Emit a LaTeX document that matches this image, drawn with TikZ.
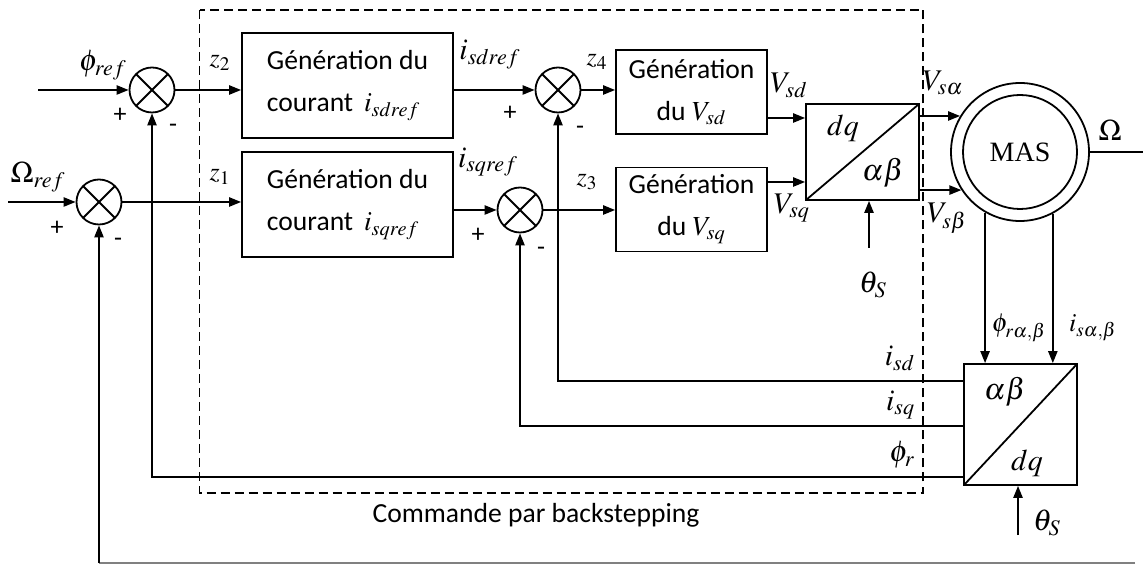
\documentclass[tikz,border=0pt]{standalone}
\usepackage{amsmath}
\usepackage{mathptmx}
\usepackage{fontspec}
\setmainfont{Carlito}
\newfontfamily\serif{Liberation Serif}
\usetikzlibrary{arrows.meta}

\begin{document}
\begin{tikzpicture}[x=0.5pt,y=-0.5pt,line width=0.9pt,>={Triangle[length=6pt,width=4.6pt]},
	bloc/.style={draw, rectangle, inner sep=0pt, minimum width=105.5pt, minimum height=52.5pt, align=left, font=\fontsize{13.8}{21}\selectfont},
	gen/.style={draw, rectangle, inner sep=0pt, minimum width=75.5pt, minimum height=42pt, align=center, font=\fontsize{13.8}{21}\selectfont},
	sum/.style={draw, circle, inner sep=0pt, minimum size=22.5pt, path picture={
		\draw ([shift={(45:11.25pt)}]path picture bounding box.center) -- ([shift={(225:11.25pt)}]path picture bounding box.center);
		\draw ([shift={(135:11.25pt)}]path picture bounding box.center) -- ([shift={(315:11.25pt)}]path picture bounding box.center);}},
	conv/.style={draw, rectangle, inner sep=0pt, minimum width=56.5pt, path picture={
		\draw (path picture bounding box.south west) -- (path picture bounding box.north east);}},
	lab/.style={inner sep=0pt, font=\fontsize{15}{15}\selectfont},
	small/.style={inner sep=0pt, font=\fontsize{13}{13}\selectfont},
	sgn/.style={inner sep=0pt, font=\fontsize{13}{13}\selectfont}]
	\useasboundingbox (0,0) rectangle (1143,565);

	% frame of the backstepping control
	\draw[line width=0.7pt, dash pattern=on 4.5pt off 2.5pt] (199.5,10) rectangle (923,493);
	\node[font=\fontsize{13.8}{16}\selectfont] (cmd) at (536,515) {Commande par backstepping};

	\node[sum] (S1) at (152,90) {};
	\node[sum] (S2) at (99,202) {};
	\node[sum] (S3) at (558,90) {};
	\node[sum] (S4) at (520,210) {};

	\node[bloc] (B1) at (347.5,85.5) {Génération du\\courant\, $i_{sdref}$};
	\node[bloc] (B2) at (347.5,204.5) {Génération du\\courant\, $i_{sqref}$};
	\node[gen] (B3) at (691.5,92) {Génération\\du $V_{sd}$};
	\node[gen] (B4) at (691.5,209.5) {Génération\\du $V_{sq}$};

	\node[conv, minimum height=48pt] (T1) at (862.5,152) {};
	\node[conv, minimum height=60.5pt] (T2) at (1020.5,424.5) {};
	\node[lab] (dq1) at (843,128) {$dq$};
	\node[lab] (ab1) at (883,173) {$\alpha\beta$};
	\node[lab] (ab2) at (1005,392) {$\alpha\beta$};
	\node[lab] (dq2) at (1027,463) {$dq$};

	\node[draw, circle, inner sep=0pt, minimum size=69pt] (MAS) at (1020,152) {};
	\node[draw, circle, inner sep=0pt, minimum size=57pt, font=\serif\fontsize{14}{14}\selectfont] (MASin) at (MAS) {MAS};

	\coordinate (phin) at (38,90);
	\coordinate (omin) at (8,202);
	\coordinate (th1) at (869,248);
	\coordinate (th2) at (1018,535);
	\coordinate (omout) at (1143,152);
	\coordinate (fbR) at (1135,563);

	\draw[->] (phin) -- (S1);
	\draw[->] (S1) -- (S1 -| B1.west);
	\draw[->] (omin) -- (S2);
	\draw[->] (S2) -- (S2 -| B2.west);
	\draw[->] (S3 -| B1.east) -- (S3);
	\draw[->] (S4 -| B2.east) -- (S4);
	\draw[->] (S3) -- (S3 -| B3.west);
	\draw[->] (S4) -- (S4 -| B4.west);
	\draw[->] (B3.east |- 0,118) -- (T1.west |- 0,118);
	\draw[->] (B4.east |- 0,182) -- (T1.west |- 0,182);
	\draw[->] (T1.east |- MAS.149.5) -- (MAS.149.5);
	\draw[->] (T1.east |- MAS.213.4) -- (MAS.213.4);
	\draw[->] (MAS.240.5) -- (MAS.240.5 |- T2.north);
	\draw[->] (MAS.298.6) -- (MAS.298.6 |- T2.north);
	\draw (MAS.east) -- (omout);
	\draw[->] (th1) -- (th1 |- T1.south);
	\draw[->] (th2) -- (th2 |- T2.south);

	% feedbacks
	\draw[->] (T2.west |- 0,381) -| (S3.south);
	\draw[->] (T2.west |- 0,426) -| (S4.south);
	\draw[->] (T2.west |- 0,477) -| (S1.south);
	\draw[gray, line width=0.6pt] (fbR) -- (fbR -| S2.south);
	\draw[->] (fbR -| S2.south) -- (S2.south);

	\node[lab] (phiref) at (103,65) {$\phi_{ref}$};
	\node[lab] (omref) at (38,177) {$\Omega_{ref}$};
	\node[sgn] (p1) at (120,115) {+};
	\node[sgn] (m1) at (173,128) {-};
	\node[sgn] (p2) at (57,228) {+};
	\node[sgn] (m2) at (118,242) {-};
	\node[sgn] (p3) at (510,113) {+};
	\node[sgn] (m3) at (580,130) {-};
	\node[sgn] (p4) at (478,235) {+};
	\node[sgn] (m4) at (541,251) {-};

	\node[small] (z2) at (220,63) {$z_2$};
	\node[small] (z1) at (220,177) {$z_1$};
	\node[small] (z4) at (597,62) {$z_4$};
	\node[small] (z3) at (587,182) {$z_3$};
	\node[lab] (isdref) at (490,55) {$i_{sdref}$};
	\node[lab] (isqref) at (488,162) {$i_{sqref}$};
	\node[lab] (vsd) at (789,85) {$V_{sd}$};
	\node[lab] (vsq) at (792,208) {$V_{sq}$};
	\node[lab] (vsa) at (943,83) {$V_{s\alpha}$};
	\node[lab] (vsb) at (947,218) {$V_{s\beta}$};
	\node[lab] (om) at (1110,130) {$\Omega$};
	\node[lab] (th1l) at (873,285) {$\theta_S$};
	\node[lab] (th2l) at (1047,523) {$\theta_S$};
	\node[small] (phirab) at (1019,328) {$\phi_{r\alpha,\beta}$};
	\node[small] (isab) at (1093,328) {$i_{s\alpha,\beta}$};
	\node[lab, anchor=east] (isd) at (916,358) {$i_{sd}$};
	\node[lab, anchor=east] (isq) at (916,405) {$i_{sq}$};
	\node[lab, anchor=east] (phir) at (916,455) {$\phi_r$};
\end{tikzpicture}
\end{document}
